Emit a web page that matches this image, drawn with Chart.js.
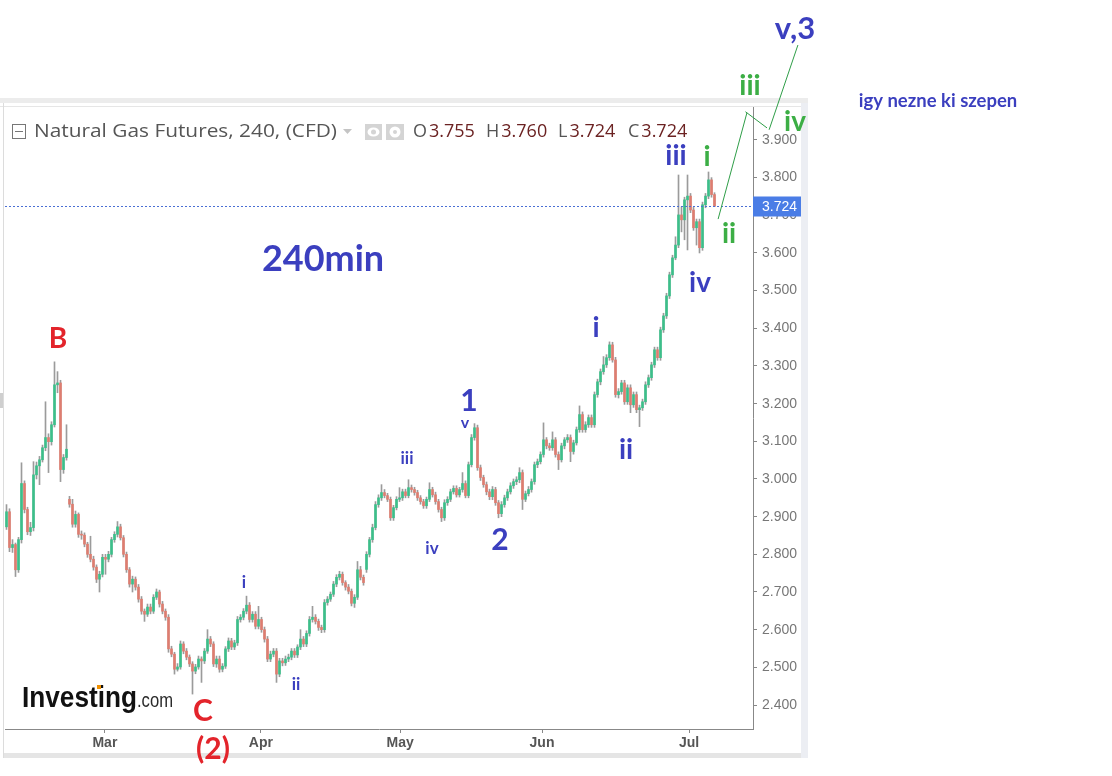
<!DOCTYPE html>
<html>
<head>
<meta charset="utf-8">
<title>Natural Gas Futures, 240</title>
<script src="https://cdn.jsdelivr.net/npm/chart.js@4.4.1/dist/chart.umd.min.js"></script>
<style>
    html, body { margin: 0; padding: 0; background: #fff; }
    #wrap { width: 1112px; height: 776px; position: relative; }
</style>
</head>
<body>
<div id="wrap"><canvas id="grafico"></canvas></div>
<script>
/* 240 perces gyertyak, kb. feb. eleje - jul. eleje (leolvasva a kepről) */

const open_v = [
    2.873, 2.913, 2.818, 2.826, 2.759, 2.839, 2.988, 2.919, 2.860, 2.871,
    3.011, 3.035, 3.051, 3.083, 3.110, 3.099, 3.144, 3.250, 3.255, 3.025,
    3.057, 2.946, 2.933, 2.880, 2.906, 2.853, 2.851, 2.827, 2.800, 2.787,
    2.766, 2.734, 2.747, 2.792, 2.787, 2.800, 2.839, 2.853, 2.873, 2.844,
    2.800, 2.759, 2.721, 2.734, 2.713, 2.681, 2.649, 2.641, 2.660, 2.649,
    2.686, 2.700, 2.668, 2.649, 2.633, 2.549, 2.535, 2.495, 2.501, 2.562,
    2.543, 2.527, 2.509, 2.490, 2.501, 2.522, 2.517, 2.543, 2.575, 2.562,
    2.509, 2.522, 2.495, 2.503, 2.549, 2.570, 2.554, 2.565, 2.627, 2.633,
    2.649, 2.665, 2.627, 2.641, 2.609, 2.627, 2.600, 2.575, 2.522, 2.535,
    2.543, 2.482, 2.517, 2.512, 2.522, 2.527, 2.543, 2.533, 2.554, 2.575,
    2.562, 2.590, 2.627, 2.633, 2.622, 2.606, 2.600, 2.672, 2.681, 2.694,
    2.721, 2.739, 2.747, 2.725, 2.713, 2.702, 2.670, 2.686, 2.759, 2.739,
    2.760, 2.800, 2.839, 2.871, 2.932, 2.950, 2.964, 2.956, 2.946, 2.897,
    2.924, 2.946, 2.950, 2.966, 2.956, 2.977, 2.972, 2.964, 2.950, 2.940,
    2.929, 2.946, 2.972, 2.958, 2.940, 2.919, 2.897, 2.937, 2.946, 2.966,
    2.975, 2.958, 2.972, 2.988, 2.956, 3.038, 3.110, 3.136, 3.030, 3.004,
    2.985, 2.966, 2.953, 2.972, 2.937, 2.908, 2.932, 2.950, 2.966, 2.982,
    2.993, 2.998, 3.017, 2.946, 2.961, 2.972, 2.993, 3.038, 3.046, 3.065,
    3.104, 3.088, 3.083, 3.104, 3.065, 3.051, 3.088, 3.104, 3.110, 3.073,
    3.096, 3.131, 3.171, 3.131, 3.144, 3.163, 3.144, 3.224, 3.258, 3.285,
    3.303, 3.322, 3.356, 3.316, 3.224, 3.232, 3.255, 3.205, 3.242, 3.197,
    3.224, 3.184, 3.189, 3.205, 3.250, 3.269, 3.303, 3.343, 3.322, 3.396,
    3.433, 3.486, 3.542, 3.587, 3.621, 3.701, 3.688, 3.741, 3.751, 3.714,
    3.667, 3.683, 3.614, 3.728, 3.751, 3.794, 3.755
];

const high_v = [
    2.932, 2.921, 2.839, 2.830, 2.845, 3.043, 2.995, 2.925, 2.885, 3.046,
    3.045, 3.060, 3.090, 3.205, 3.120, 3.152, 3.311, 3.285, 3.262, 3.065,
    3.144, 2.954, 2.946, 2.915, 2.910, 2.862, 2.857, 2.832, 2.848, 2.795,
    2.772, 2.755, 2.800, 2.800, 2.808, 2.845, 2.860, 2.887, 2.880, 2.850,
    2.806, 2.765, 2.742, 2.740, 2.720, 2.688, 2.655, 2.668, 2.668, 2.693,
    2.708, 2.705, 2.675, 2.655, 2.640, 2.556, 2.540, 2.510, 2.570, 2.568,
    2.550, 2.533, 2.515, 2.508, 2.530, 2.528, 2.550, 2.600, 2.582, 2.568,
    2.530, 2.530, 2.510, 2.555, 2.578, 2.577, 2.572, 2.635, 2.640, 2.656,
    2.689, 2.672, 2.648, 2.648, 2.662, 2.633, 2.607, 2.582, 2.543, 2.550,
    2.550, 2.524, 2.524, 2.530, 2.535, 2.550, 2.550, 2.560, 2.600, 2.582,
    2.597, 2.635, 2.662, 2.640, 2.628, 2.612, 2.680, 2.688, 2.700, 2.728,
    2.746, 2.755, 2.753, 2.730, 2.720, 2.708, 2.693, 2.781, 2.768, 2.745,
    2.807, 2.845, 2.880, 2.940, 2.958, 2.985, 2.972, 2.962, 2.952, 2.930,
    2.953, 2.977, 2.973, 2.973, 2.998, 2.984, 2.978, 2.970, 2.956, 2.946,
    2.952, 2.990, 2.978, 2.965, 2.946, 2.925, 2.945, 2.953, 2.973, 2.982,
    2.982, 2.978, 3.017, 2.995, 3.045, 3.118, 3.147, 3.143, 3.037, 3.010,
    2.992, 2.973, 2.980, 2.978, 2.943, 2.940, 2.957, 2.973, 2.990, 3.000,
    3.006, 3.030, 3.024, 2.968, 2.980, 3.000, 3.045, 3.053, 3.072, 3.149,
    3.110, 3.095, 3.125, 3.110, 3.072, 3.095, 3.110, 3.118, 3.117, 3.103,
    3.138, 3.194, 3.178, 3.152, 3.170, 3.170, 3.231, 3.265, 3.292, 3.325,
    3.330, 3.364, 3.363, 3.323, 3.240, 3.262, 3.262, 3.250, 3.250, 3.231,
    3.231, 3.196, 3.212, 3.258, 3.276, 3.310, 3.350, 3.350, 3.403, 3.440,
    3.493, 3.549, 3.594, 3.643, 3.807, 3.722, 3.748, 3.807, 3.758, 3.721,
    3.690, 3.690, 3.735, 3.758, 3.815, 3.800, 3.760
];

const low_v = [
    2.866, 2.807, 2.805, 2.741, 2.752, 2.830, 2.910, 2.852, 2.850, 2.862,
    3.000, 2.985, 3.045, 3.075, 3.017, 3.090, 3.138, 3.229, 2.993, 3.015,
    3.050, 2.925, 2.872, 2.872, 2.845, 2.840, 2.820, 2.792, 2.780, 2.758,
    2.725, 2.700, 2.740, 2.747, 2.780, 2.793, 2.832, 2.846, 2.838, 2.793,
    2.752, 2.713, 2.700, 2.705, 2.673, 2.641, 2.622, 2.635, 2.642, 2.643,
    2.680, 2.660, 2.642, 2.625, 2.540, 2.528, 2.482, 2.490, 2.495, 2.536,
    2.520, 2.502, 2.429, 2.483, 2.495, 2.460, 2.510, 2.537, 2.555, 2.502,
    2.500, 2.487, 2.488, 2.497, 2.542, 2.547, 2.547, 2.558, 2.620, 2.626,
    2.642, 2.620, 2.620, 2.602, 2.602, 2.593, 2.567, 2.515, 2.515, 2.528,
    2.460, 2.475, 2.504, 2.505, 2.515, 2.520, 2.526, 2.526, 2.547, 2.555,
    2.555, 2.583, 2.620, 2.615, 2.598, 2.592, 2.593, 2.665, 2.675, 2.688,
    2.714, 2.732, 2.718, 2.705, 2.695, 2.663, 2.659, 2.680, 2.732, 2.718,
    2.752, 2.793, 2.832, 2.865, 2.925, 2.943, 2.950, 2.940, 2.890, 2.890,
    2.918, 2.940, 2.943, 2.950, 2.950, 2.965, 2.957, 2.943, 2.933, 2.922,
    2.922, 2.940, 2.952, 2.933, 2.912, 2.887, 2.890, 2.930, 2.940, 2.960,
    2.952, 2.952, 2.965, 2.950, 2.950, 3.032, 3.103, 3.023, 2.996, 2.978,
    2.958, 2.945, 2.945, 2.930, 2.897, 2.900, 2.925, 2.943, 2.960, 2.975,
    2.985, 2.990, 2.919, 2.940, 2.955, 2.965, 2.986, 3.030, 3.040, 3.058,
    3.080, 3.076, 3.076, 3.058, 3.025, 3.045, 3.080, 3.097, 3.046, 3.066,
    3.090, 3.124, 3.124, 3.124, 3.137, 3.137, 3.137, 3.217, 3.250, 3.278,
    3.296, 3.315, 3.310, 3.217, 3.215, 3.225, 3.198, 3.198, 3.176, 3.190,
    3.176, 3.139, 3.182, 3.198, 3.243, 3.262, 3.296, 3.315, 3.315, 3.389,
    3.426, 3.479, 3.535, 3.582, 3.614, 3.656, 3.635, 3.608, 3.707, 3.660,
    3.621, 3.600, 3.607, 3.720, 3.744, 3.748, 3.724
];

const close_v = [
    2.913, 2.818, 2.826, 2.759, 2.839, 2.988, 2.919, 2.860, 2.871, 3.011,
    3.035, 3.051, 3.083, 3.110, 3.099, 3.144, 3.250, 3.255, 3.025, 3.057,
    3.079, 2.933, 2.880, 2.906, 2.853, 2.851, 2.827, 2.800, 2.787, 2.766,
    2.734, 2.747, 2.792, 2.787, 2.800, 2.839, 2.853, 2.873, 2.844, 2.800,
    2.759, 2.721, 2.734, 2.713, 2.681, 2.649, 2.641, 2.660, 2.649, 2.686,
    2.700, 2.668, 2.649, 2.633, 2.549, 2.535, 2.495, 2.501, 2.562, 2.543,
    2.527, 2.509, 2.490, 2.501, 2.522, 2.517, 2.543, 2.575, 2.562, 2.509,
    2.522, 2.495, 2.503, 2.549, 2.570, 2.554, 2.565, 2.627, 2.633, 2.649,
    2.665, 2.627, 2.641, 2.609, 2.627, 2.600, 2.575, 2.522, 2.535, 2.543,
    2.482, 2.517, 2.512, 2.522, 2.527, 2.543, 2.533, 2.554, 2.575, 2.562,
    2.590, 2.627, 2.633, 2.622, 2.606, 2.600, 2.672, 2.681, 2.694, 2.721,
    2.739, 2.747, 2.725, 2.713, 2.702, 2.670, 2.686, 2.759, 2.739, 2.725,
    2.800, 2.839, 2.871, 2.932, 2.950, 2.964, 2.956, 2.946, 2.897, 2.924,
    2.946, 2.950, 2.966, 2.956, 2.977, 2.972, 2.964, 2.950, 2.940, 2.929,
    2.946, 2.972, 2.958, 2.940, 2.919, 2.897, 2.937, 2.946, 2.966, 2.975,
    2.958, 2.972, 2.988, 2.956, 3.038, 3.110, 3.136, 3.030, 3.004, 2.985,
    2.966, 2.953, 2.972, 2.937, 2.908, 2.932, 2.950, 2.966, 2.982, 2.993,
    2.998, 3.017, 2.946, 2.961, 2.972, 2.993, 3.038, 3.046, 3.065, 3.104,
    3.088, 3.083, 3.104, 3.065, 3.051, 3.088, 3.104, 3.110, 3.073, 3.096,
    3.131, 3.171, 3.131, 3.144, 3.163, 3.144, 3.224, 3.258, 3.285, 3.303,
    3.322, 3.356, 3.316, 3.224, 3.232, 3.255, 3.205, 3.242, 3.197, 3.224,
    3.184, 3.189, 3.205, 3.250, 3.269, 3.303, 3.343, 3.322, 3.396, 3.433,
    3.486, 3.542, 3.587, 3.621, 3.701, 3.688, 3.741, 3.751, 3.714, 3.667,
    3.683, 3.614, 3.728, 3.751, 3.794, 3.755, 3.724
];

// honap kezdetek (gyertya sorszamban) es a cimkek
const month_labels = ['Mar', 'Apr', 'May', 'Jun', 'Jul'];
const month_pos = [32.8, 84.8, 131.2, 178.5, 227.5];

const price_ticks = [2.4, 2.5, 2.6, 2.7, 2.8, 2.9, 3.0, 3.1, 3.2, 3.3, 3.4, 3.5, 3.6, 3.7, 3.8, 3.9];

// kezzel rajzolt zold vonal (gyertya sorszam, ar)
const proj_line_1 = [[237.2, 3.690], [246.8, 3.972]];
const proj_line_2 = [[246.3, 3.975], [253.5, 3.932]];
const proj_line_3 = [[254.2, 3.927], [263.8, 4.152]];

const kek = '#3b3fbf';
const piros = '#e3242b';
const zold = '#3cae45';

// hullam cimkek (szoveg, x, y, meret, szin)
const wave_labels = [
    ['240min', 323, 259, 36, kek],
    ['B', 58, 339, 28, piros],
    ['C', 203, 711, 30, piros],
    ['(2)', 213, 749, 30, piros],
    ['i', 244, 583, 17, kek],
    ['ii', 296, 685, 17, kek],
    ['iii', 407, 459, 17, kek],
    ['iv', 432, 549, 17, kek],
    ['v', 465, 423, 16, kek],
    ['1', 469, 401, 30, kek],
    ['2', 500, 540, 30, kek],
    ['i', 596, 328, 28, kek],
    ['ii', 626, 450, 28, kek],
    ['iii', 676, 156, 28, kek],
    ['iv', 700, 283, 28, kek],
    ['i', 707, 157, 28, zold],
    ['ii', 729, 234, 28, zold],
    ['iii', 750, 86, 28, zold],
    ['iv', 795, 122, 28, zold],
    ['v,3', 795, 29, 31, kek],
    ['igy nezne ki szepen', 938, 101, 18.5, kek]
];

const wick_data = [];
const body_data = [];
const body_colors = [];
for (var i = 0; i < close_v.length; i++) {
    wick_data.push({x: i, y: [low_v[i], high_v[i]]});
    body_data.push({x: i, y: [open_v[i], close_v[i]]});
    body_colors.push(close_v[i] >= open_v[i] ? '#3cbf8a' : '#de7d70');
}

const keret = {
    id: 'keret',
    beforeDraw(chart) {
        const ctx = chart.ctx;
        ctx.save();
        ctx.fillStyle = '#fff';
        ctx.fillRect(0, 0, chart.width, chart.height);
        ctx.fillStyle = '#ececec';
        ctx.fillRect(0, 98, 808, 5);
        ctx.fillStyle = '#e6e6e6';
        ctx.fillRect(0, 106, 801, 1);
        ctx.fillStyle = '#dcdcdc';
        ctx.fillRect(3, 103, 1, 655);
        ctx.fillStyle = '#cfcfcf';
        ctx.fillRect(0, 393, 3, 15);
        ctx.fillStyle = '#eceef3';
        ctx.fillRect(801, 103, 7, 655);
        ctx.fillStyle = '#e5e5e5';
        ctx.fillRect(4, 753, 797, 5);
        ctx.restore();
    },
    afterDraw(chart) {
        const ctx = chart.ctx;
        const xs = chart.scales.x;
        const ys = chart.scales.y;
        const area = chart.chartArea;
        ctx.save();

        // aktualis ar vonal + cimke
        const last = close_v[close_v.length - 1];
        const py = Math.round(ys.getPixelForValue(last)) + 0.5;
        ctx.strokeStyle = '#4a6fd4';
        ctx.lineWidth = 1;
        ctx.setLineDash([2, 2]);
        ctx.beginPath();
        ctx.moveTo(area.left, py);
        ctx.lineTo(area.right, py);
        ctx.stroke();
        ctx.setLineDash([]);
        ctx.fillStyle = '#4a7de6';
        ctx.fillRect(area.right, py - 10, 48, 20);
        ctx.fillStyle = '#fff';
        ctx.font = '14px "Liberation Sans", Arial';
        ctx.textAlign = 'left';
        ctx.textBaseline = 'middle';
        ctx.fillText(last.toFixed(3), area.right + 9, py + 1);

        // fejlec
        ctx.strokeStyle = '#777';
        ctx.strokeRect(12.5, 124.5, 13, 14);
        ctx.beginPath();
        ctx.moveTo(15, 131.5);
        ctx.lineTo(23, 131.5);
        ctx.stroke();
        ctx.fillStyle = '#555';
        ctx.font = '19px "Open Sans"';
        const tw = ctx.measureText('Natural Gas Futures, 240, (CFD)').width;
        ctx.save();
        ctx.translate(34, 132);
        ctx.scale(303 / tw, 1);
        ctx.fillText('Natural Gas Futures, 240, (CFD)', 0, 0);
        ctx.restore();
        ctx.fillStyle = '#c4c4c4';
        ctx.beginPath();
        ctx.moveTo(343, 129);
        ctx.lineTo(352, 129);
        ctx.lineTo(347.5, 134);
        ctx.fill();
        ctx.fillStyle = '#d4d4d4';
        ctx.fillRect(365, 124, 17, 16);
        ctx.fillRect(386, 124, 18, 16);
        ctx.fillStyle = '#fff';
        ctx.beginPath();
        ctx.ellipse(373.5, 132, 6, 4.5, 0, 0, Math.PI * 2);
        ctx.fill();
        ctx.fillStyle = '#d4d4d4';
        ctx.beginPath();
        ctx.arc(373.5, 132, 2.5, 0, Math.PI * 2);
        ctx.fill();
        ctx.fillStyle = '#fff';
        ctx.beginPath();
        ctx.arc(395, 132, 5.5, 0, Math.PI * 2);
        ctx.fill();
        ctx.fillStyle = '#d4d4d4';
        ctx.beginPath();
        ctx.arc(395, 132, 2, 0, Math.PI * 2);
        ctx.fill();

        const ohlc = [['O', open_v], ['H', high_v], ['L', low_v], ['C', close_v]];
        const ohlc_x = [413, 486, 558, 628];
        const n = close_v.length - 1;
        ctx.font = '18px "Open Sans"';
        for (var k = 0; k < ohlc.length; k++) {
            ctx.fillStyle = '#555';
            ctx.fillText(ohlc[k][0], ohlc_x[k], 132);
            const w = ctx.measureText(ohlc[k][0]).width;
            ctx.fillStyle = '#6b2222';
            ctx.fillText(ohlc[k][1][n].toFixed(3), ohlc_x[k] + w + 2, 132);
        }

        // Investing.com logo
        ctx.textBaseline = 'alphabetic';
        ctx.fillStyle = '#111';
        ctx.font = 'bold 29px "Liberation Sans", Arial';
        let lw = ctx.measureText('Investing').width;
        ctx.save();
        ctx.translate(22, 707);
        ctx.scale(115 / lw, 1);
        ctx.fillText('Investing', 0, 0);
        ctx.restore();
        ctx.fillStyle = '#f29100';
        ctx.fillRect(97, 685, 4, 4);
        ctx.fillStyle = '#2a2a2a';
        ctx.font = '21px "Liberation Sans", Arial';
        lw = ctx.measureText('.com').width;
        ctx.save();
        ctx.translate(137, 707);
        ctx.scale(36 / lw, 1);
        ctx.fillText('.com', 0, 0);
        ctx.restore();

        // zold vetites
        ctx.strokeStyle = '#2f9e48';
        ctx.lineWidth = 1;
        [proj_line_1, proj_line_2, proj_line_3].forEach(function (ln) {
            ctx.beginPath();
            ctx.moveTo(xs.getPixelForValue(ln[0][0]), ys.getPixelForValue(ln[0][1]));
            ctx.lineTo(xs.getPixelForValue(ln[1][0]), ys.getPixelForValue(ln[1][1]));
            ctx.stroke();
        });

        // cimkek
        ctx.textAlign = 'center';
        ctx.textBaseline = 'middle';
        wave_labels.forEach(function (l) {
            ctx.fillStyle = l[4];
            ctx.font = 'bold ' + l[3] + 'px Lato';
            ctx.fillText(l[0], l[1], l[2]);
        });
        ctx.restore();
    }
};

const config_gyertya = {
    type: 'bar',
    data: {
        datasets: [
            {
                label: 'body',
                data: body_data,
                backgroundColor: body_colors,
                barThickness: 2,
                minBarLength: 1,
                grouped: false,
                order: 1
            },
            {
                label: 'wick',
                data: wick_data,
                backgroundColor: '#9b9b9b',
                barThickness: 1,
                grouped: false,
                order: 2
            }
        ]
    },
    options: {
        responsive: true,
        maintainAspectRatio: false,
        animation: false,
        events: [],
        layout: {
            padding: { left: 5, top: 107, right: 311, bottom: 23 }
        },
        scales: {
            x: {
                type: 'linear',
                min: -0.5,
                max: 248.83,
                offset: false,
                grid: { offset: false, drawOnChartArea: false, drawTicks: true, tickLength: 4, color: '#888' },
                border: { color: '#888' },
                afterBuildTicks: function (s) {
                    s.ticks = month_pos.map(v => ({ value: v }));
                },
                afterFit: function (s) { s.height = 24; },
                ticks: {
                    autoSkip: false,
                    maxRotation: 0,
                    padding: 2,
                    color: '#555',
                    font: { size: 14, weight: 'bold', family: '"Liberation Sans", Arial' },
                    callback: function (v, idx) { return month_labels[idx]; }
                }
            },
            y: {
                type: 'linear',
                position: 'right',
                min: 2.3363,
                max: 3.9875,
                beginAtZero: false,
                grid: { drawOnChartArea: false, drawTicks: true, tickLength: 4, color: '#888' },
                border: { color: '#888' },
                afterBuildTicks: function (s) {
                    s.ticks = price_ticks.map(v => ({ value: v }));
                },
                afterFit: function (s) { s.width = 48; },
                ticks: {
                    padding: 5,
                    color: '#777',
                    font: { size: 14, family: '"Liberation Sans", Arial' },
                    callback: function (v) { return Number(v).toFixed(3); }
                }
            }
        },
        plugins: {
            legend: { display: false },
            tooltip: { enabled: false },
            title: { display: false }
        }
    },
    plugins: [keret]
};

const grafico = new Chart(document.getElementById('grafico'), config_gyertya);
</script>
</body>
</html>
